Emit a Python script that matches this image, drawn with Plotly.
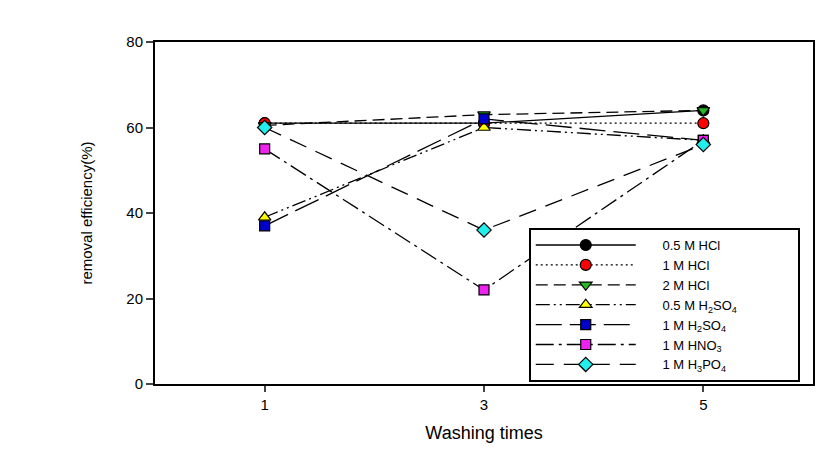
import plotly.graph_objects as go

washing_times = [1, 3, 5]
hcl_05 = [61, 61, 64]
hcl_1 = [61, 61, 61]
hcl_2 = [60.5, 63, 64]
h2so4_05 = [39, 60, 57]
h2so4_1 = [37, 62, 57]
hno3_1 = [55, 22, 57]
h3po4_1 = [60, 36, 56]

series = [
    ("0.5 M HCl", hcl_05, "black", "circle", "solid"),
    ("1 M HCl", hcl_1, "red", "circle", "2px,3px"),
    ("2 M HCl", hcl_2, "#22bb22", "triangle-down", "12px,6px"),
    ("0.5 M H<sub>2</sub>SO<sub>4</sub>", h2so4_05, "#ffff00", "triangle-up", "14px,4px,2px,4px,2px,4px"),
    ("1 M H<sub>2</sub>SO<sub>4</sub>", h2so4_1, "#0000cc", "square", "26px,8px"),
    ("1 M HNO<sub>3</sub>", hno3_1, "#ee22ee", "square", "18px,5px,3px,5px"),
    ("1 M H<sub>3</sub>PO<sub>4</sub>", h3po4_1, "#22eeee", "diamond", "18px,10px"),
]

pad_left = "<span style='color:rgba(0,0,0,0)'>___</span>"

fig = go.Figure()
for name, vals, color, sym, dash in series:
    fig.add_trace(go.Scatter(
        x=washing_times, y=vals, name=pad_left + name + "&nbsp;" * 15, mode="lines+markers",
        line=dict(color="black", width=1.3, dash=dash),
        marker=dict(symbol=sym, size=11 if sym != "square" else 10, color=color,
                    line=dict(color="black", width=1.2)),
    ))

font = "Liberation Sans, Arial, sans-serif"
fig.update_layout(
    width=827, height=447,
    margin=dict(l=147, r=22, t=34, b=71),
    plot_bgcolor="white", paper_bgcolor="white",
    font=dict(family=font, color="black", size=14),
    showlegend=True,
    legend=dict(
        x=0.568, y=0.456, xanchor="left", yanchor="top",
        bgcolor="white", bordercolor="black", borderwidth=2,
        font=dict(size=13, family=font), itemwidth=100, tracegroupgap=0,
    ),
    xaxis=dict(
        range=[0, 6], tickvals=[1, 3, 5], ticks="outside", ticklen=6, tickwidth=1.5,
        showline=True, linecolor="black", linewidth=2, mirror=True, showgrid=False,
        zeroline=False, tickfont=dict(size=15),
        title=dict(text="Washing times", font=dict(size=18), standoff=14),
    ),
    yaxis=dict(
        range=[0, 80], tickvals=[0, 20, 40, 60, 80], ticks="outside", ticklen=7, tickwidth=1.5,
        showline=True, linecolor="black", linewidth=2, mirror=True, showgrid=False,
        zeroline=False, tickfont=dict(size=15),
        title=dict(text="removal efficiency(%)", font=dict(size=15), standoff=30),
    ),
)

fig.write_html("out.html")
